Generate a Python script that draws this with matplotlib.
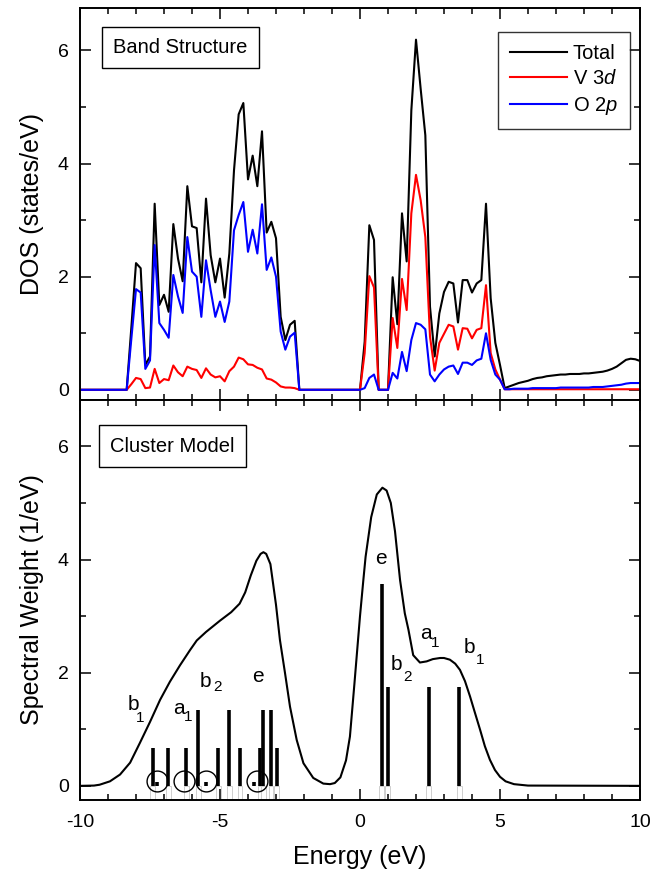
import numpy as np
import matplotlib
matplotlib.use("Agg")
import matplotlib.pyplot as plt
from matplotlib.ticker import MultipleLocator

plt.rcParams['font.family'] = ['Liberation Sans', 'DejaVu Sans']
plt.rcParams['mathtext.fontset'] = 'custom'
plt.rcParams['mathtext.rm'] = 'Liberation Sans'
plt.rcParams['mathtext.it'] = 'Liberation Sans:italic'

# ---------------- DOS data (energy grid: -10..10 eV, step 1/6 eV) ----------------
dos_energy = np.linspace(-10, 10, 121)

total_vb = [0, 1.1, 2.24, 2.15, 0.44, 0.59, 3.29, 1.50, 1.68, 1.38,
            2.93, 2.32, 1.92, 3.60, 2.89, 2.86, 1.90, 3.38, 2.38, 1.90,
            2.32, 1.63, 2.41, 3.88, 4.87, 5.07, 3.72, 4.14, 3.60, 4.57,
            2.78, 2.97, 2.68, 1.29, 0.88, 1.15, 1.22, 0]
v3d_vb = [0, 0.1, 0.21, 0.19, 0.03, 0.04, 0.37, 0.12, 0.19, 0.17,
          0.43, 0.31, 0.24, 0.41, 0.37, 0.35, 0.21, 0.38, 0.27, 0.22,
          0.24, 0.15, 0.33, 0.41, 0.57, 0.54, 0.45, 0.44, 0.39, 0.36,
          0.20, 0.18, 0.13, 0.06, 0.04, 0.04, 0.03, 0]
o2p_vb = [0, 0.9, 1.78, 1.72, 0.37, 0.52, 2.56, 1.18, 1.06, 0.92,
          2.03, 1.65, 1.36, 2.70, 2.09, 2.00, 1.29, 2.29, 1.76, 1.29,
          1.56, 1.20, 1.56, 2.82, 3.09, 3.32, 2.44, 2.83, 2.41, 3.28,
          2.12, 2.34, 2.00, 1.03, 0.71, 0.94, 1.01, 0]

total_cb = [0.85, 2.91, 2.65, 0, 0, 0, 1.99, 1.16, 3.12, 2.27,
            4.94, 6.19, 5.32, 4.50, 1.47, 0.59, 1.35, 1.73, 1.91, 1.88,
            1.19, 1.94, 1.94, 1.72, 1.88, 1.94, 3.29, 1.62, 0.83, 0.44]
v3d_cb = [0.65, 2.01, 1.81, 0, 0, 0, 1.27, 0.74, 1.96, 1.41,
          3.12, 3.80, 3.35, 2.70, 0.94, 0.34, 0.83, 0.99, 1.15, 1.12,
          0.71, 1.09, 1.08, 0.91, 1.06, 1.09, 1.85, 0.65, 0.36, 0.18]
o2p_cb = [0.03, 0.21, 0.27, 0, 0, 0, 0.30, 0.20, 0.67, 0.33,
          0.88, 1.18, 1.15, 1.07, 0.27, 0.15, 0.27, 0.36, 0.41, 0.43,
          0.28, 0.48, 0.48, 0.44, 0.52, 0.55, 1.00, 0.53, 0.27, 0.18]

total_tail = [0.03, 0.06, 0.09, 0.12, 0.14, 0.16, 0.19, 0.21, 0.22, 0.24,
              0.25, 0.26, 0.27, 0.27, 0.28, 0.28, 0.28, 0.29, 0.29, 0.30,
              0.31, 0.32, 0.34, 0.37, 0.41, 0.47, 0.53, 0.55, 0.54, 0.51]
v3d_tail = [0.01, 0.01, 0.01, 0.01, 0.01, 0.01, 0.01, 0.01, 0.01, 0.01,
            0.01, 0.01, 0.01, 0.01, 0.01, 0.01, 0.01, 0.01, 0.01, 0.01,
            0.01, 0.01, 0.01, 0.01, 0.01, 0.01, 0.01, 0.01, 0.01, 0.01]
o2p_tail = [0.01, 0.01, 0.02, 0.02, 0.02, 0.02, 0.03, 0.03, 0.03, 0.03,
            0.03, 0.03, 0.04, 0.04, 0.04, 0.04, 0.04, 0.04, 0.04, 0.05,
            0.05, 0.05, 0.06, 0.07, 0.08, 0.09, 0.11, 0.12, 0.12, 0.12]

gap_low = [0.0] * 10
gap_mid = [0.0] * 13
dos_total = gap_low + total_vb + gap_mid + total_cb + total_tail
dos_v3d = gap_low + v3d_vb + gap_mid + v3d_cb + v3d_tail
dos_o2p = gap_low + o2p_vb + gap_mid + o2p_cb + o2p_tail

# ---------------- Cluster model ----------------
curve_e = [-10, -9.5, -9.3, -8.93, -8.57, -8.21, -7.86, -7.5, -7.14, -6.79,
           -6.43, -6.07, -5.83, -5.5, -5.0, -4.6, -4.3, -4.1, -3.9, -3.7,
           -3.55, -3.45, -3.35, -3.2, -3.0, -2.86, -2.68, -2.5, -2.26, -2.02,
           -1.67, -1.31, -1.07, -0.9, -0.7, -0.5, -0.36, -0.2, 0.0, 0.12,
           0.2, 0.4, 0.6, 0.8, 0.95, 1.1, 1.25, 1.43, 1.6, 1.73,
           1.9, 2.14, 2.38, 2.6, 2.86, 3.0, 3.21, 3.4, 3.57, 3.75,
           3.93, 4.1, 4.29, 4.46, 4.64, 4.82, 5.0, 5.2, 5.5, 6.0, 10]
curve_w = [0, 0.005, 0.02, 0.08, 0.2, 0.41, 0.76, 1.13, 1.52, 1.84,
           2.13, 2.40, 2.57, 2.72, 2.92, 3.07, 3.22, 3.42, 3.72, 3.98,
           4.10, 4.13, 4.10, 3.92, 3.20, 2.58, 2.00, 1.40, 0.81, 0.40,
           0.14, 0.04, 0.03, 0.05, 0.15, 0.45, 0.87, 1.8, 3.0, 3.64,
           4.05, 4.75, 5.15, 5.27, 5.22, 5.0, 4.5, 3.64, 3.05, 2.76,
           2.31, 2.18, 2.20, 2.24, 2.26, 2.26, 2.23, 2.16, 2.05, 1.85,
           1.58, 1.30, 0.99, 0.70, 0.46, 0.28, 0.16, 0.08, 0.03, 0.005, 0]

stick_e = [-7.40, -6.84, -6.21, -5.77, -5.06, -4.67, -4.29, -3.57, -3.45, -3.18,
           -2.98, 0.77, 0.99, 2.45, 3.55]
stick_w = [0.67, 0.67, 0.67, 1.34, 0.67, 1.34, 0.67, 0.67, 1.34, 1.34,
           0.67, 3.57, 1.75, 1.75, 1.74]
tiny_e = [-7.24, -5.50, -3.77]
tiny_w = [0.07, 0.07, 0.07]
circle_e = [-7.24, -6.29, -5.51, -3.69]
circle_w = [0.08, 0.08, 0.08, 0.08]

# symmetry labels: (letter, subscript, x, y, sub_x, sub_y)
sym_labels = [
    ("b", "1", -8.10, 1.43, -7.85, 1.20),
    ("a", "1", -6.46, 1.36, -6.14, 1.22),
    ("b", "2", -5.52, 1.85, -5.10, 1.75),
    ("e", "", -3.66, 1.94, None, None),
    ("e", "", 0.75, 4.02, None, None),
    ("b", "2", 1.29, 2.15, 1.68, 1.93),
    ("a", "1", 2.36, 2.70, 2.68, 2.53),
    ("b", "1", 3.90, 2.44, 4.29, 2.23),
]

# ---------------- Figure ----------------
W, H = 662, 875
fig = plt.figure(figsize=(W / 100, H / 100), dpi=100)
L, R = 80 / W, 640 / W
ax1 = fig.add_axes([L, 1 - 400 / H, R - L, 392 / H])
ax2 = fig.add_axes([L, 1 - 800 / H, R - L, 400 / H])

for ax in (ax1, ax2):
    ax.set_xlim(-10, 10)
    ax.xaxis.set_major_locator(MultipleLocator(5))
    ax.xaxis.set_minor_locator(MultipleLocator(1))
    ax.yaxis.set_major_locator(MultipleLocator(2))
    ax.yaxis.set_minor_locator(MultipleLocator(1))
    ax.tick_params(which='both', direction='in', top=True, right=True,
                   labelsize=14, width=1.1)
    ax.tick_params(which='major', length=8)
    ax.tick_params(which='minor', length=4.5)
    ax.tick_params(axis='y', which='both', pad=8)
    ax.tick_params(axis='x', which='both', pad=10)
    for sp in ax.spines.values():
        sp.set_linewidth(1.4)

box_style = dict(boxstyle='square,pad=0.55', fc='white', ec='black', lw=1)

# top panel
ax1.plot(dos_energy, dos_total, color='black', lw=1.5, label='Total')
ax1.plot(dos_energy, dos_v3d, color='#ff0000', lw=1.5, label=r'V 3$\mathit{d}$')
ax1.plot(dos_energy, dos_o2p, color='#0000ff', lw=1.5, label=r'O 2$\mathit{p}$')
ax1.set_ylim(-0.18, 6.75)
ax1.tick_params(labelbottom=False)
ax1.set_ylabel('DOS (states/eV)', fontsize=18, labelpad=10)
ax1.text(0.179, 0.90, 'Band Structure', transform=ax1.transAxes, fontsize=14.5,
         ha='center', va='center', bbox=box_style)
leg = ax1.legend(loc='upper right', bbox_to_anchor=(0.982, 0.939), borderaxespad=0,
                 fontsize=14.5, frameon=True, fancybox=False, edgecolor='black',
                 handlelength=2.8, handletextpad=0.3, labelspacing=0.32,
                 borderpad=0.6)
leg.get_frame().set_linewidth(1)

# bottom panel
y0 = -0.25
ax2.set_ylim(y0, 6.82)
ax2.bar(stick_e, [-y0] * len(stick_e), bottom=y0, width=0.17, color='white',
        edgecolor='#c8c8c8', lw=0.6, zorder=1)
ax2.vlines(stick_e, 0, stick_w, color='black', lw=2.6, zorder=2)
ax2.vlines(tiny_e, 0, tiny_w, color='black', lw=2.6, zorder=2)
ax2.plot(circle_e, circle_w, ls='none', marker='o', ms=15, mfc='none',
         mec='black', mew=1.0, zorder=3)
ax2.plot(curve_e, curve_w, color='black', lw=1.5, zorder=3)
for let, sub, x, y, sx, sy in sym_labels:
    ax2.text(x, y, let, fontsize=15, ha='center', va='center')
    if sub:
        ax2.text(sx, sy, sub, fontsize=11, ha='center', va='center')
ax2.set_xlabel('Energy (eV)', fontsize=18, labelpad=10)
ax2.set_ylabel('Spectral Weight (1/eV)', fontsize=18, labelpad=10)
ax2.text(0.165, 0.885, 'Cluster Model', transform=ax2.transAxes, fontsize=14.5,
         ha='center', va='center', bbox=box_style)
ax2.set_xticks([-10, -5, 0, 5, 10])
ax2.set_xticklabels(['-10', '-5', '0', '5', '10'])

fig.savefig('out.png', dpi=100)
